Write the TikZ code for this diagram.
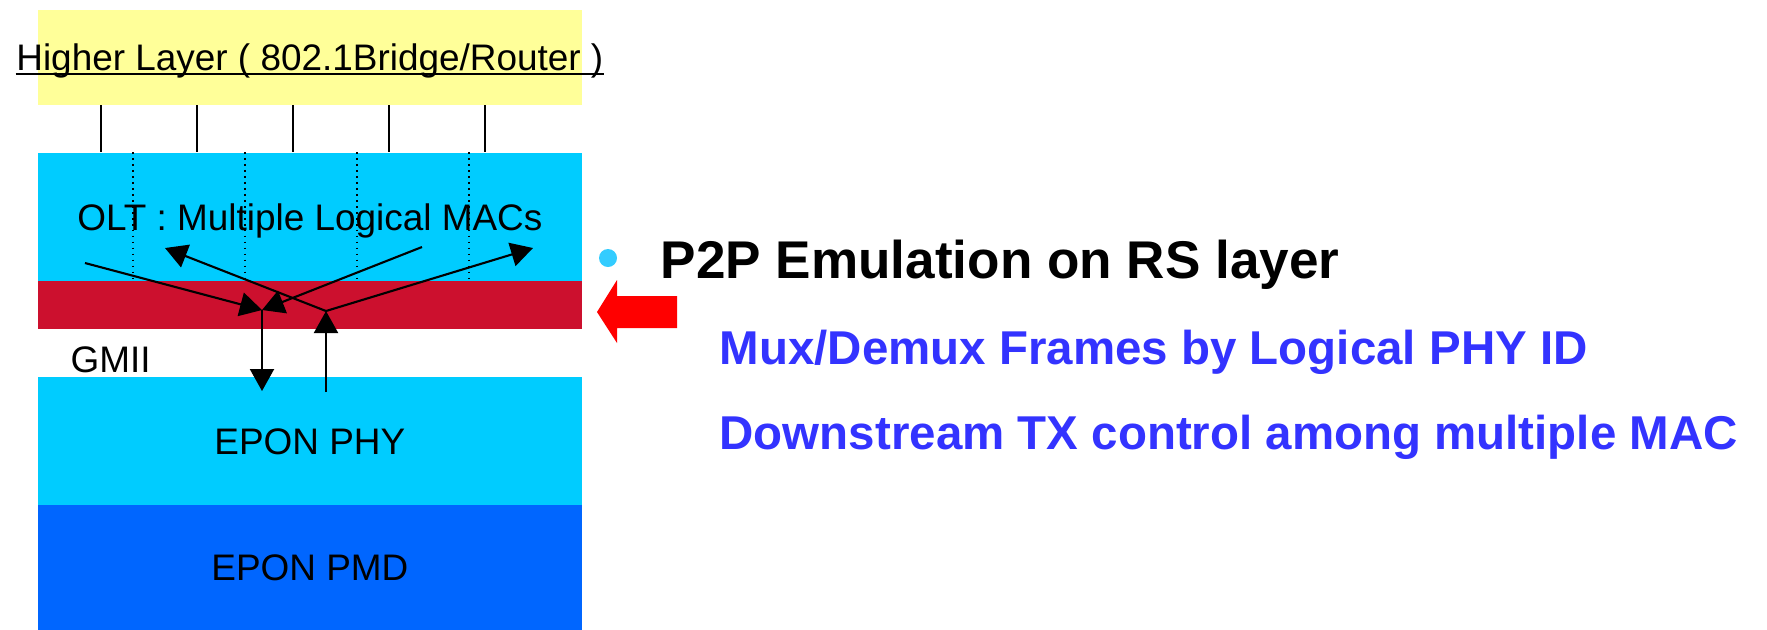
\documentclass[tikz,border=0pt]{standalone}
\usepackage{fontspec}
\setmainfont{Liberation Sans}
\usetikzlibrary{arrows.meta}
\usetikzlibrary{positioning}

\begin{document}
\begin{tikzpicture}[x=0.01cm,y=-0.01cm,>={Triangle[length=0.22cm,width=0.24cm]},
	layer box/.style={rectangle,inner sep=0pt,minimum width=5.44cm,anchor=north west,
		font=\fontsize{10.5}{12}\selectfont,text height=7.6pt,text depth=0pt},
	label text/.style={inner sep=0pt,font=\fontsize{10.5}{12}\selectfont,text height=7.6pt,text depth=0pt},
	point text/.style={inner sep=0pt,anchor=base west,font=\bfseries\fontsize{13.5}{16}\selectfont,text=note},
	link/.style={line width=0.6pt}]
	
	\definecolor{upper}{RGB}{255,255,153}
	\definecolor{olt}{RGB}{0,204,255}
	\definecolor{rsband}{RGB}{204,16,46}
	\definecolor{pmd}{RGB}{0,102,255}
	\definecolor{bullet}{RGB}{51,204,255}
	\definecolor{note}{RGB}{51,51,255}
	
	\useasboundingbox (0,0) rectangle (1767,629);
	
	\node[layer box, fill=upper, minimum height=0.95cm] (hl) at (37,9) {};
	\node[layer box, fill=olt, minimum height=1.28cm] (olt) at (37,152) {OLT : Multiple Logical MACs};
	\node[layer box, fill=rsband, minimum height=0.48cm] (rs) at (37,280) {};
	\node[layer box, fill=olt, minimum height=1.28cm] (phy) at (37,376) {EPON PHY};
	\node[layer box, fill=pmd, minimum height=1.25cm] (pmd) at (37,504) {EPON PMD};
	
	\node[label text] (hltext) at (hl.center) {Higher Layer ( 802.1Bridge/Router )};
	\draw[line width=0.6pt] ([yshift=-1pt]hltext.base west) -- ([yshift=-1pt]hltext.base east);
	\node[label text, anchor=base west] (gmii) at (70,372) {GMII};
	
	\foreach \x in {101,197,293,389,485}
		\draw[link] (hl.south -| \x,0) -- (olt.north -| \x,0);
	\foreach \x in {133,245,357,469}
		\draw[line width=0.5pt, dash pattern=on 0.5pt off 1.2pt] (olt.north -| \x,0) -- (olt.south -| \x,0);
	
	\coordinate (mux) at (262,310);
	\coordinate (demux) at (326,311);
	\coordinate (macA) at (85,263);
	\coordinate (macB) at (422,247);
	\coordinate (macC) at (165,248);
	\coordinate (macD) at (533,248);
	\coordinate (phyin) at (262,391);
	\coordinate (phyout) at (326,392);
	
	\draw[link,->] (macA) -- (mux);
	\draw[link,->] (macB) -- (mux);
	\draw[link,->] (mux) -- (phyin);
	\draw[link,->] (phyout) -- (demux);
	\draw[link,->] (demux) -- (macC);
	\draw[link,->] (demux) -- (macD);
	
	\fill[red] (597,312) -- (617,280) -- (617,296) -- (677,296) -- (677,328)
		-- (617,328) -- (617,343) -- cycle;
	
	\node[circle, fill=bullet, minimum size=0.18cm, inner sep=0pt] (dot) at (608,258) {};
	\node[inner sep=0pt, anchor=base west, font=\bfseries\fontsize{15.1}{18}\selectfont] (p2p) at (660,278) {P2P Emulation on RS layer};
	\node[point text] (mux text) at (719,364) {Mux/Demux Frames by Logical PHY ID};
	\node[point text] (tx text) at (719,449) {Downstream TX control among multiple MAC};
\end{tikzpicture}
\end{document}
